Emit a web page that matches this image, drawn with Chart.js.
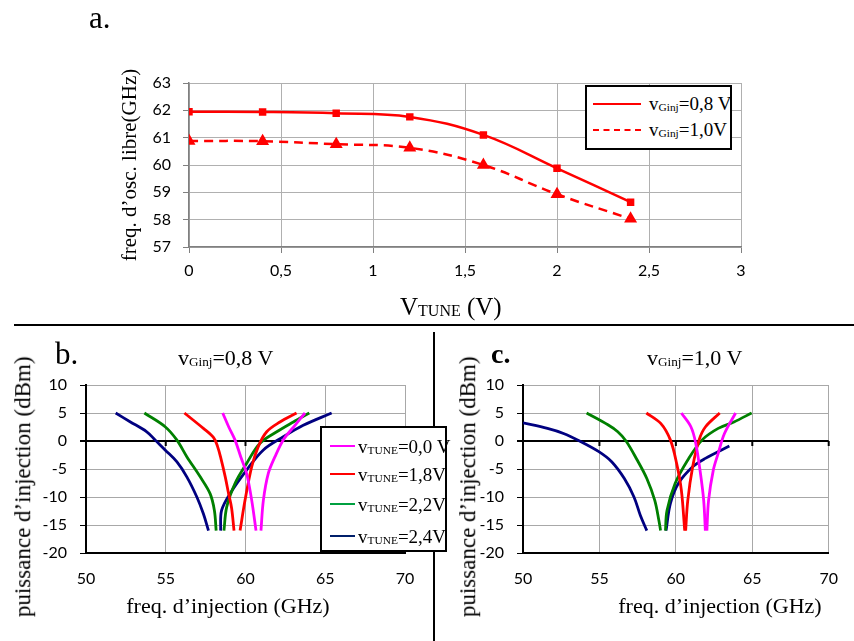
<!DOCTYPE html>
<html>
<head>
<meta charset="utf-8">
<script src="https://cdn.jsdelivr.net/npm/chart.js@4.4.1/dist/chart.umd.min.js"></script>
<style>
  body { margin: 0; width: 854px; height: 641px; position: relative; background: #fff; overflow: hidden;
         font-family: 'Liberation Serif', serif; color: #000; }
  canvas { position: absolute; }
  .t { position: absolute; white-space: nowrap; line-height: 1; }
  .t sub { font-size: 0.6em; position: relative; top: 0.05em; vertical-align: baseline; line-height: 0; }
  .rot { position: absolute; width: 320px; text-align: center; white-space: nowrap; transform: rotate(-90deg); line-height: 1.2; }
  .box { position: absolute; border: 2px solid #000; background: #fff; box-sizing: border-box; z-index: 5; }
  .sw { position: absolute; height: 0; }
</style>
</head>
<body>
<canvas id="chartA" width="854" height="320" style="left:0;top:0;width:854px;height:320px"></canvas>
<canvas id="chartB" width="433" height="311" style="left:0;top:330px;width:433px;height:311px"></canvas>
<canvas id="chartC" width="419" height="311" style="left:435px;top:330px;width:419px;height:311px"></canvas>

<!-- traits de séparation -->
<div style="position:absolute;left:14px;top:324px;width:840px;height:2px;background:#000"></div>
<div style="position:absolute;left:433px;top:332px;width:2px;height:309px;background:#000"></div>

<!-- textes -->
<div class="t" style="left:89px;top:2px;font-size:31px">a.</div>
<div class="t" style="left:400px;top:294px;font-size:25px">V<sub style="font-size:0.64em">TUNE</sub> (V)</div>

<div class="t" style="left:55px;top:338px;font-size:31px">b.</div>
<div class="t" style="left:178px;top:347px;font-size:22px">v<sub>Ginj</sub>=0,8 V</div>
<div class="rot" style="left:-137px;top:473px;font-size:23px">puissance d’injection (dBm)</div>
<div class="rot" style="left:81px;top:593px;font-size:22px;transform:none;width:294px">freq. d’injection (GHz)</div>

<div class="t" style="left:491px;top:340px;font-size:28px;font-weight:bold">c.</div>
<div class="t" style="left:647px;top:347px;font-size:22px">v<sub>Ginj</sub>=1,0 V</div>
<div class="rot" style="left:308px;top:473px;font-size:23px">puissance d’injection (dBm)</div>
<div class="rot" style="left:573px;top:593px;font-size:22px;transform:none;width:294px">freq. d’injection (GHz)</div>

<!-- légende a -->
<div class="box" style="left:585px;top:85px;width:147px;height:65px">
  <div class="sw" style="left:6px;top:16px;width:48px;border-top:2.5px solid #ff0000"></div>
  <div class="t" style="left:62px;top:7px;font-size:19px">v<sub>Ginj</sub>=0,8 V</div>
  <div class="sw" style="left:6px;top:42px;width:48px;border-top:2.5px dashed #ff0000"></div>
  <div class="t" style="left:62px;top:33px;font-size:19px">v<sub>Ginj</sub>=1,0V</div>
</div>

<!-- légende b -->
<div class="box" style="left:320px;top:426px;width:127px;height:126px">
  <div class="sw" style="left:8px;top:17px;width:25px;border-top:2.5px solid #ff00ff"></div>
  <div class="t" style="left:36px;top:9px;font-size:19px">v<sub>TUNE</sub>=0,0 V</div>
  <div class="sw" style="left:8px;top:45px;width:25px;border-top:2.5px solid #ff0000"></div>
  <div class="t" style="left:36px;top:37px;font-size:19px">v<sub>TUNE</sub>=1,8V</div>
  <div class="sw" style="left:8px;top:75px;width:25px;border-top:2.5px solid #00a040"></div>
  <div class="t" style="left:36px;top:67px;font-size:19px">v<sub>TUNE</sub>=2,2V</div>
  <div class="sw" style="left:8px;top:107px;width:25px;border-top:2.5px solid #001f6a"></div>
  <div class="t" style="left:36px;top:99px;font-size:19px">v<sub>TUNE</sub>=2,4V</div>
</div>

<script>
// a. fréquence d'oscillation libre en fonction de V_TUNE
const vTune = [0, 0.4, 0.8, 1.2, 1.6, 2.0, 2.4];
const fOscG08 = [61.95, 61.94, 61.89, 61.76, 61.10, 59.88, 58.64];
const fOscG10 = [60.88, 60.87, 60.76, 60.63, 60.00, 58.93, 58.03];
const ticksA_x = [0, 0.5, 1, 1.5, 2, 2.5, 3];

// b. vGinj = 0,8 V : branches gauche / droite [freq GHz, puissance dBm]
const b00L = [[58.57, 5], [58.95, 2.5], [59.34, 0.2], [59.7, -2.8], [60.07, -5.8], [60.39, -10.6], [60.66, -16]];
const b00R = [[60.97, -16], [61.12, -10.6], [61.43, -5.8], [61.85, -2.8], [62.37, 0.2], [63.1, 2.8], [63.73, 5]];
const b18L = [[56.17, 5], [57.36, 2.25], [58.0, 0.6], [58.25, -1.0], [58.45, -3.0], [58.73, -6.4], [58.94, -9.4], [59.13, -12], [59.28, -16]];
const b18R = [[59.66, -16], [59.97, -10.6], [60.39, -4.6], [60.8, -1.0], [61.33, 1.65], [62.16, 3.4], [63.2, 5]];
const b22L = [[53.66, 5], [54.96, 2.55], [55.69, 0.2], [56.32, -2.8], [57.16, -6.4], [57.78, -9.4], [58.05, -12.4], [58.16, -16]];
const b22R = [[58.65, -16], [58.82, -11.8], [59.34, -7.6], [60.07, -4.0], [60.91, -0.4], [61.96, 1.65], [63.0, 3.4], [64.0, 5]];
const b24L = [[51.86, 5], [52.76, 3.45], [53.81, 1.65], [54.33, 0.2], [54.96, -1.6], [55.69, -3.7], [56.32, -6.4], [56.95, -10], [57.36, -13], [57.68, -16]];
const b24R = [[58.44, -16], [58.5, -12.4], [59.03, -9.4], [60.07, -5.2], [61.12, -1.6], [62.37, 0.75], [63.62, 2.8], [65.4, 5]];

// c. vGinj = 1,0 V
const c00L = [[60.36, 5], [60.99, 2.5], [61.3, -0.4], [61.61, -5.8], [61.82, -10.6], [61.93, -16]];
const c00R = [[62.03, -16], [62.14, -10.6], [62.45, -5.2], [62.77, -2.2], [63.18, 1.35], [63.91, 5]];
const c18L = [[58.07, 5], [59.01, 3.15], [59.64, 0.2], [60.05, -4.0], [60.36, -8.8], [60.58, -16]];
const c18R = [[60.64, -16], [60.78, -10.6], [61.1, -4.6], [61.52, 0.2], [61.93, 2.5], [62.87, 5]];
const c22L = [[54.16, 5], [55.58, 2.85], [56.2, 1.65], [56.74, 0], [57.47, -3.4], [58.1, -6.7], [58.62, -10.6], [58.89, -14.2], [59.0, -16]];
const c22R = [[59.32, -16], [59.42, -12.4], [59.95, -7.6], [60.78, -3.4], [61.72, 0.2], [62.77, 2.25], [63.8, 3.4], [64.96, 5]];
const c24L = [[50, 3.25], [51.6, 2.25], [52.65, 1.35], [53.7, 0], [54.96, -1.9], [55.8, -3.7], [56.63, -6.7], [57.26, -10], [57.68, -13.3], [58.1, -16]];
const c24R = [[59.36, -16], [59.64, -11.2], [60.16, -7.6], [61.1, -4.6], [61.93, -3.1], [63.5, -0.9]];

const couleurs = { t00: '#ff00ff', t18: '#ff0000', t22: '#008000', t24: '#000080' };

Chart.defaults.font.family = 'Lato, sans-serif';
Chart.defaults.font.size = 16;
Chart.defaults.color = '#000';
Chart.defaults.animation = false;

const virgule = v => String(v).replace('.', ',');

new Chart(document.getElementById('chartA'), {
    type: 'line',
    data: {
        datasets: [{
            data: vTune.map((x, i) => ({ x: x, y: fOscG08[i] })),
            borderColor: '#ff0000', backgroundColor: '#ff0000',
            borderWidth: 2.5, tension: 0.4,
            pointStyle: 'rect', pointRadius: 3.5
        }, {
            data: vTune.map((x, i) => ({ x: x, y: fOscG10[i] })),
            borderColor: '#ff0000', backgroundColor: '#ff0000',
            borderWidth: 2.5, borderDash: [9, 6], tension: 0.4,
            pointStyle: 'triangle', pointRadius: 5
        }]
    },
    options: {
        responsive: false,
        layout: { padding: { left: 115, right: 113, top: 83, bottom: 0 } },
        plugins: { legend: { display: false }, tooltip: { enabled: false } },
        scales: {
            x: {
                type: 'linear', min: 0, max: 3,
                afterBuildTicks: s => { s.ticks = ticksA_x.map(v => ({ value: v })); },
                afterFit: s => { s.height = 73; },
                grid: { color: '#b0b0b0', tickLength: 6, tickColor: '#808080' },
                border: { color: '#808080', width: 1.5 },
                ticks: { padding: 8, callback: virgule }
            },
            y: {
                min: 57, max: 63,
                afterFit: s => { s.width = 74; },
                grid: { color: '#b0b0b0', tickLength: 6, tickColor: '#808080' },
                border: { color: '#808080', width: 1.5 },
                ticks: { stepSize: 1, padding: 12 },
                title: { display: true, text: 'freq. d’osc. libre(GHz)',
                         font: { family: 'Liberation Serif', size: 21 }, padding: { top: 3, bottom: 4 } }
            }
        }
    }
});

// petits traits de graduation sur la ligne 0 dBm
const zeroTicks = {
    id: 'zeroTicks',
    beforeDatasetsDraw(chart) {
        const xs = chart.scales.x, ys = chart.scales.y, ctx = chart.ctx;
        const y0 = ys.getPixelForValue(0);
        ctx.save();
        ctx.strokeStyle = '#000';
        ctx.lineWidth = 2;
        xs.ticks.forEach(t => {
            const px = xs.getPixelForValue(t.value);
            ctx.beginPath(); ctx.moveTo(px, y0); ctx.lineTo(px, y0 + 5); ctx.stroke();
        });
        ctx.restore();
    }
};

function branche(pts, col) {
    return {
        data: pts.map(p => ({ x: p[0], y: p[1] })),
        borderColor: col, borderWidth: 2.8, showLine: true,
        pointRadius: 0, tension: 0.35
    };
}

function injChart(id, pad, series) {
    const ds = [];
    series.forEach(s => { ds.push(branche(s[0], s[2])); ds.push(branche(s[1], s[2])); });
    return new Chart(document.getElementById(id), {
        type: 'scatter',
        data: { datasets: ds },
        options: {
            responsive: false,
            layout: { padding: pad },
            plugins: { legend: { display: false }, tooltip: { enabled: false } },
            scales: {
                x: {
                    min: 50, max: 70,
                    afterFit: s => { s.height = 88; },
                    grid: { color: '#a8a8a8', drawTicks: false },
                    border: { color: '#000', width: 2 },
                    ticks: { stepSize: 5, padding: 16 }
                },
                y: {
                    min: -20, max: 10,
                    afterFit: s => { s.width = pad.yw; },
                    grid: {
                        color: c => (c.tick && c.tick.value === 0 ? '#000' : '#a8a8a8'),
                        lineWidth: c => (c.tick && c.tick.value === 0 ? 2 : 1),
                        tickLength: 6, tickColor: '#000'
                    },
                    border: { color: '#000', width: 2 },
                    ticks: { stepSize: 5, padding: 13 }
                }
            }
        },
        plugins: [zeroTicks]
    });
}

injChart('chartB', { left: 0, right: 28, top: 55, bottom: 0, yw: 86 }, [
    [b00L, b00R, couleurs.t00], [b18L, b18R, couleurs.t18],
    [b22L, b22R, couleurs.t22], [b24L, b24R, couleurs.t24]
]);
injChart('chartC', { left: 0, right: 12, top: 55, bottom: 0, yw: 88 }, [
    [c00L, c00R, couleurs.t00], [c18L, c18R, couleurs.t18],
    [c22L, c22R, couleurs.t22], [c24L, c24R, couleurs.t24]
]);
</script>
</body>
</html>
